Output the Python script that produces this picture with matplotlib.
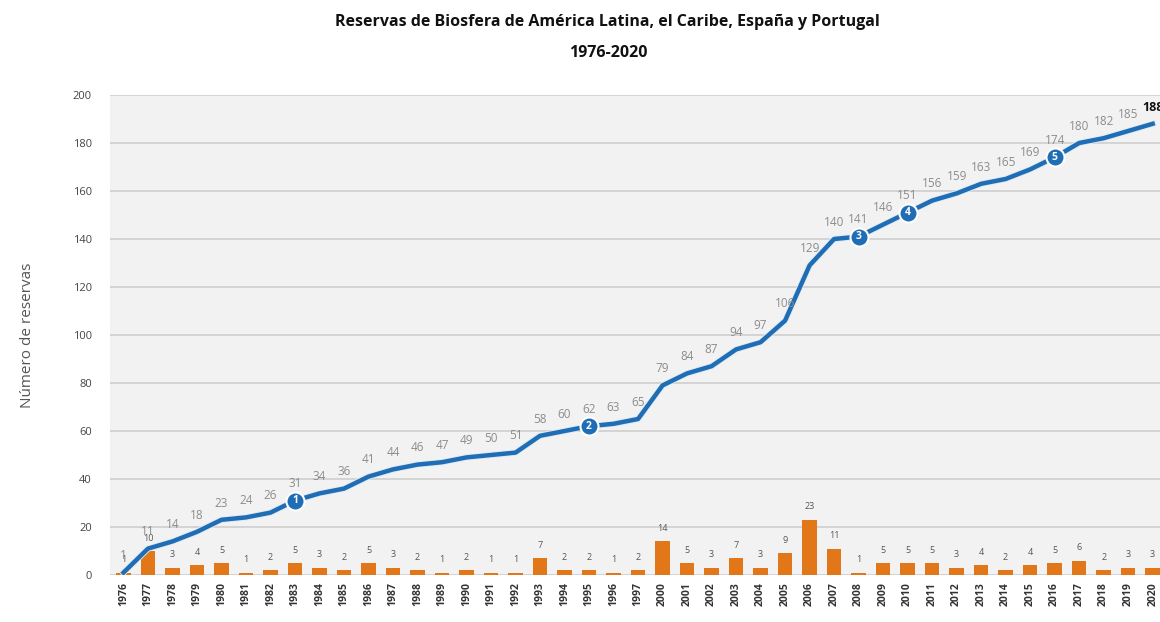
import matplotlib.pyplot as plt
import matplotlib.patheffects as pe
import numpy as np

plt.rcParams['font.family'] = ['Open Sans', 'DejaVu Sans']

anios = [1976, 1977, 1978, 1979, 1980, 1981, 1982, 1983, 1984, 1985, 1986,
         1987, 1988, 1989, 1990, 1991, 1992, 1993, 1994, 1995, 1996, 1997,
         2000, 2001, 2002, 2003, 2004, 2005, 2006, 2007, 2008, 2009, 2010,
         2011, 2012, 2013, 2014, 2015, 2016, 2017, 2018, 2019, 2020]
nuevas = [1, 10, 3, 4, 5, 1, 2, 5, 3, 2, 5, 3, 2, 1, 2, 1, 1, 7, 2, 2, 1, 2,
          14, 5, 3, 7, 3, 9, 23, 11, 1, 5, 5, 5, 3, 4, 2, 4, 5, 6, 2, 3, 3]
acumuladas = [1, 11, 14, 18, 23, 24, 26, 31, 34, 36, 41, 44, 46, 47, 49, 50,
              51, 58, 60, 62, 63, 65, 79, 84, 87, 94, 97, 106, 129, 140, 141,
              146, 151, 156, 159, 163, 165, 169, 174, 180, 182, 185, 188]
# hitos numerados sobre la curva
hitos_anio = [1983, 1995, 2008, 2010, 2016]
hitos_num = ['1', '2', '3', '4', '5']

azul = '#1f6db4'
naranja = '#e2771a'

fig = plt.figure(figsize=(11.6, 6.22), dpi=100)
ax = fig.add_axes([110 / 1160, 47 / 622, 1050 / 1160, 480 / 622])
ax.set_facecolor('#f2f2f2')

x = np.arange(len(anios))
ax.bar(x, nuevas, width=0.6, color=naranja, zorder=2)
for xi, v in zip(x, nuevas):
    ax.annotate(str(v), (xi, v), xytext=(0, 6), textcoords='offset points',
                ha='center', va='bottom', fontsize=6.5, color='#555555', zorder=3)

ax.plot(x, acumuladas, color=azul, lw=3.2, zorder=4, solid_joinstyle='round',
        path_effects=[pe.Stroke(linewidth=4.5, foreground='#dfeaf5'), pe.Normal()])
for i, (xi, v) in enumerate(zip(x, acumuladas)):
    ultimo = i == len(x) - 1
    ax.annotate(str(v), (xi, v), xytext=(0, 12), textcoords='offset points',
                ha='center', va='center', fontsize=8.5 if not ultimo else 9,
                color='#8c8c8c' if not ultimo else '#111111',
                fontweight='bold' if ultimo else 'normal', zorder=5,
                annotation_clip=False)

for a, n in zip(hitos_anio, hitos_num):
    i = anios.index(a)
    ax.plot(x[i], acumuladas[i], 'o', ms=13, mfc=azul, mec='white', mew=1.5, zorder=6)
    ax.text(x[i], acumuladas[i], n, ha='center', va='center', fontsize=7.5,
            fontweight='bold', color='white', zorder=7)

ax.set_xlim(-0.55, len(x) - 0.7)
ax.set_ylim(0, 200)
ax.set_yticks(range(0, 201, 20))
ax.yaxis.grid(True, color='#cfcfcf', lw=1.2)
ax.set_axisbelow(True)
ax.set_xticks(x)
ax.set_xticklabels([str(a) for a in anios], rotation=90, fontsize=7.5,
                   fontweight='bold', color='#333333')
ax.tick_params(axis='both', length=0)
ax.tick_params(axis='y', labelsize=8, labelcolor='#444444', pad=13)
ax.tick_params(axis='x', pad=5)
for s in ax.spines.values():
    s.set_visible(False)

ax.set_ylabel('Número de reservas', fontsize=11, color='#555555', labelpad=27)
fig.text(0.524, 0.965, 'Reservas de Biosfera de América Latina, el Caribe, España y Portugal',
         ha='center', va='center', fontsize=11.5, fontweight='bold', color='#111111')
fig.text(0.524, 0.915, '1976-2020', ha='center', va='center', fontsize=11.5,
         fontweight='bold', color='#111111')

fig.savefig('out.png', dpi=100)
